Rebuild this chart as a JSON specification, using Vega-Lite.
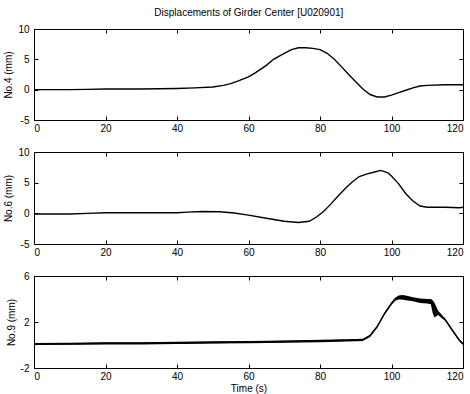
{
  "$schema": "https://vega.github.io/schema/vega-lite/v6.json",
  "background": "white",
  "padding": {"left": 3, "top": 7, "right": 0, "bottom": 5},
  "bounds": "flush",
  "spacing": 32,
  "title": {"text": "Displacements of Girder Center [U020901]", "fontSize": 10, "fontWeight": "normal", "font": "Liberation Sans", "color": "black", "offset": 6, "anchor": "middle", "dx": 14},
  "datasets": {
    "p1": [
      {"t": 0, "v": 0}, {"t": 10, "v": 0}, {"t": 15, "v": 0.05}, {"t": 20, "v": 0.1}, {"t": 30, "v": 0.1},
      {"t": 40, "v": 0.2}, {"t": 45, "v": 0.3}, {"t": 50, "v": 0.45}, {"t": 53, "v": 0.7}, {"t": 55, "v": 1.0},
      {"t": 57, "v": 1.4}, {"t": 60, "v": 2.1}, {"t": 62, "v": 2.8}, {"t": 65, "v": 4.0}, {"t": 67, "v": 5.0},
      {"t": 70, "v": 6.0}, {"t": 72, "v": 6.6}, {"t": 74, "v": 6.9}, {"t": 76, "v": 6.9}, {"t": 78, "v": 6.8},
      {"t": 80, "v": 6.6}, {"t": 82, "v": 6.0}, {"t": 84, "v": 5.0}, {"t": 86, "v": 3.8}, {"t": 88, "v": 2.5},
      {"t": 90, "v": 1.3}, {"t": 92, "v": 0.1}, {"t": 94, "v": -0.8}, {"t": 96, "v": -1.2}, {"t": 98, "v": -1.2},
      {"t": 100, "v": -0.9}, {"t": 102, "v": -0.5}, {"t": 104, "v": -0.1}, {"t": 106, "v": 0.3}, {"t": 108, "v": 0.6},
      {"t": 110, "v": 0.7}, {"t": 115, "v": 0.8}, {"t": 120, "v": 0.8}
    ],
    "p2": [
      {"t": 0, "v": -0.1}, {"t": 10, "v": -0.1}, {"t": 15, "v": 0}, {"t": 20, "v": 0.1}, {"t": 40, "v": 0.1},
      {"t": 43, "v": 0.2}, {"t": 47, "v": 0.3}, {"t": 52, "v": 0.25}, {"t": 56, "v": 0.05}, {"t": 60, "v": -0.3},
      {"t": 65, "v": -0.8}, {"t": 70, "v": -1.3}, {"t": 74, "v": -1.5}, {"t": 77, "v": -1.3}, {"t": 79, "v": -0.6},
      {"t": 81, "v": 0.3}, {"t": 83, "v": 1.5}, {"t": 85, "v": 2.8}, {"t": 87, "v": 4.0}, {"t": 89, "v": 5.1},
      {"t": 91, "v": 6.0}, {"t": 93, "v": 6.4}, {"t": 95, "v": 6.7}, {"t": 97, "v": 7.0}, {"t": 99, "v": 6.6},
      {"t": 100, "v": 6.1}, {"t": 102, "v": 4.8}, {"t": 104, "v": 3.2}, {"t": 106, "v": 2.0}, {"t": 108, "v": 1.2},
      {"t": 110, "v": 1.0}, {"t": 115, "v": 1.0}, {"t": 119, "v": 0.9}, {"t": 120, "v": 1.0}
    ],
    "p3": [
      {"t": 0, "v": 0.08, "lo": 0.0, "hi": 0.18}, {"t": 10, "v": 0.1, "lo": 0.02, "hi": 0.2},
      {"t": 20, "v": 0.15, "lo": 0.05, "hi": 0.25}, {"t": 30, "v": 0.15, "lo": 0.05, "hi": 0.25},
      {"t": 40, "v": 0.18, "lo": 0.08, "hi": 0.28}, {"t": 50, "v": 0.22, "lo": 0.12, "hi": 0.32},
      {"t": 60, "v": 0.25, "lo": 0.15, "hi": 0.35}, {"t": 70, "v": 0.3, "lo": 0.2, "hi": 0.4},
      {"t": 80, "v": 0.35, "lo": 0.25, "hi": 0.45}, {"t": 90, "v": 0.42, "lo": 0.32, "hi": 0.52},
      {"t": 92, "v": 0.45, "lo": 0.35, "hi": 0.55}, {"t": 94, "v": 0.8, "lo": 0.7, "hi": 0.9},
      {"t": 96, "v": 1.6, "lo": 1.5, "hi": 1.7}, {"t": 98, "v": 2.7, "lo": 2.6, "hi": 2.8},
      {"t": 100, "v": 3.6, "lo": 3.5, "hi": 3.75}, {"t": 101, "v": 3.95, "lo": 3.85, "hi": 4.1},
      {"t": 102, "v": 4.1, "lo": 3.95, "hi": 4.3}, {"t": 103, "v": 4.15, "lo": 3.95, "hi": 4.35},
      {"t": 104, "v": 4.1, "lo": 3.9, "hi": 4.3}, {"t": 106, "v": 3.95, "lo": 3.8, "hi": 4.15},
      {"t": 108, "v": 3.85, "lo": 3.65, "hi": 4.05}, {"t": 110, "v": 3.8, "lo": 3.6, "hi": 4.0},
      {"t": 111, "v": 3.8, "lo": 3.55, "hi": 4.0}, {"t": 111.5, "v": 3.5, "lo": 2.8, "hi": 3.9},
      {"t": 112, "v": 3.0, "lo": 2.4, "hi": 3.7}, {"t": 113, "v": 2.8, "lo": 2.6, "hi": 3.0},
      {"t": 115, "v": 2.2, "lo": 2.1, "hi": 2.3}, {"t": 117, "v": 1.3, "lo": 1.2, "hi": 1.4},
      {"t": 119, "v": 0.4, "lo": 0.3, "hi": 0.5}, {"t": 120, "v": 0.1, "lo": 0.0, "hi": 0.2}
    ]
  },
  "vconcat": [
    {
      "width": 429, "height": 91,
      "data": {"name": "p1"},
      "mark": {"type": "line", "color": "black", "strokeWidth": 1.4},
      "encoding": {
        "x": {"field": "t", "type": "quantitative", "scale": {"domain": [0, 120], "nice": false}, "axis": {"values": [0, 20, 40, 60, 80, 100, 120], "title": null, "gridDash": [4, 83, 4, 200]}},
        "y": {"field": "v", "type": "quantitative", "scale": {"domain": [-5, 10], "nice": false}, "axis": {"values": [-5, 0, 5, 10], "title": "No.4 (mm)", "gridDash": [4, 421, 4, 500]}}
      }
    },
    {
      "width": 429, "height": 92,
      "data": {"name": "p2"},
      "mark": {"type": "line", "color": "black", "strokeWidth": 1.4},
      "encoding": {
        "x": {"field": "t", "type": "quantitative", "scale": {"domain": [0, 120], "nice": false}, "axis": {"values": [0, 20, 40, 60, 80, 100, 120], "title": null, "gridDash": [4, 84, 4, 200]}},
        "y": {"field": "v", "type": "quantitative", "scale": {"domain": [-5, 10], "nice": false}, "axis": {"values": [-5, 0, 5, 10], "title": "No.6 (mm)", "gridDash": [4, 421, 4, 500]}}
      }
    },
    {
      "width": 429, "height": 92,
      "data": {"name": "p3"},
      "layer": [
        {
          "mark": {"type": "area", "color": "black"},
          "encoding": {
            "x": {"field": "t", "type": "quantitative", "scale": {"domain": [0, 120], "nice": false}, "axis": {"values": [0, 20, 40, 60, 80, 100, 120], "title": "Time (s)", "titlePadding": 2, "gridDash": [4, 84, 4, 200]}},
            "y": {"field": "lo", "type": "quantitative", "scale": {"domain": [-2, 6], "nice": false}, "axis": {"values": [-2, 0, 2, 4, 6], "title": "No.9 (mm)", "gridDash": [4, 421, 4, 500]}},
            "y2": {"field": "hi"}
          }
        },
        {
          "mark": {"type": "line", "color": "black", "strokeWidth": 1.4},
          "encoding": {
            "x": {"field": "t", "type": "quantitative"},
            "y": {"field": "v", "type": "quantitative"}
          }
        }
      ]
    }
  ],
  "config": {
    "font": "Liberation Sans",
    "view": {"stroke": "black", "strokeWidth": 1},
    "axis": {
      "grid": true, "gridColor": "black", "gridWidth": 1, "gridOpacity": 1,
      "domain": false, "ticks": false,
      "labelColor": "black", "labelFontSize": 10, "labelFont": "Liberation Sans",
      "labelExpr": "replace(datum.label, '\u2212', '-')",
      "titleFont": "Liberation Sans", "titleFontSize": 10, "titleFontWeight": "normal", "titleColor": "black",
      "titlePadding": 4, "labelPadding": 5
    },
    "axisX": {"labelPadding": 3}
  }
}
